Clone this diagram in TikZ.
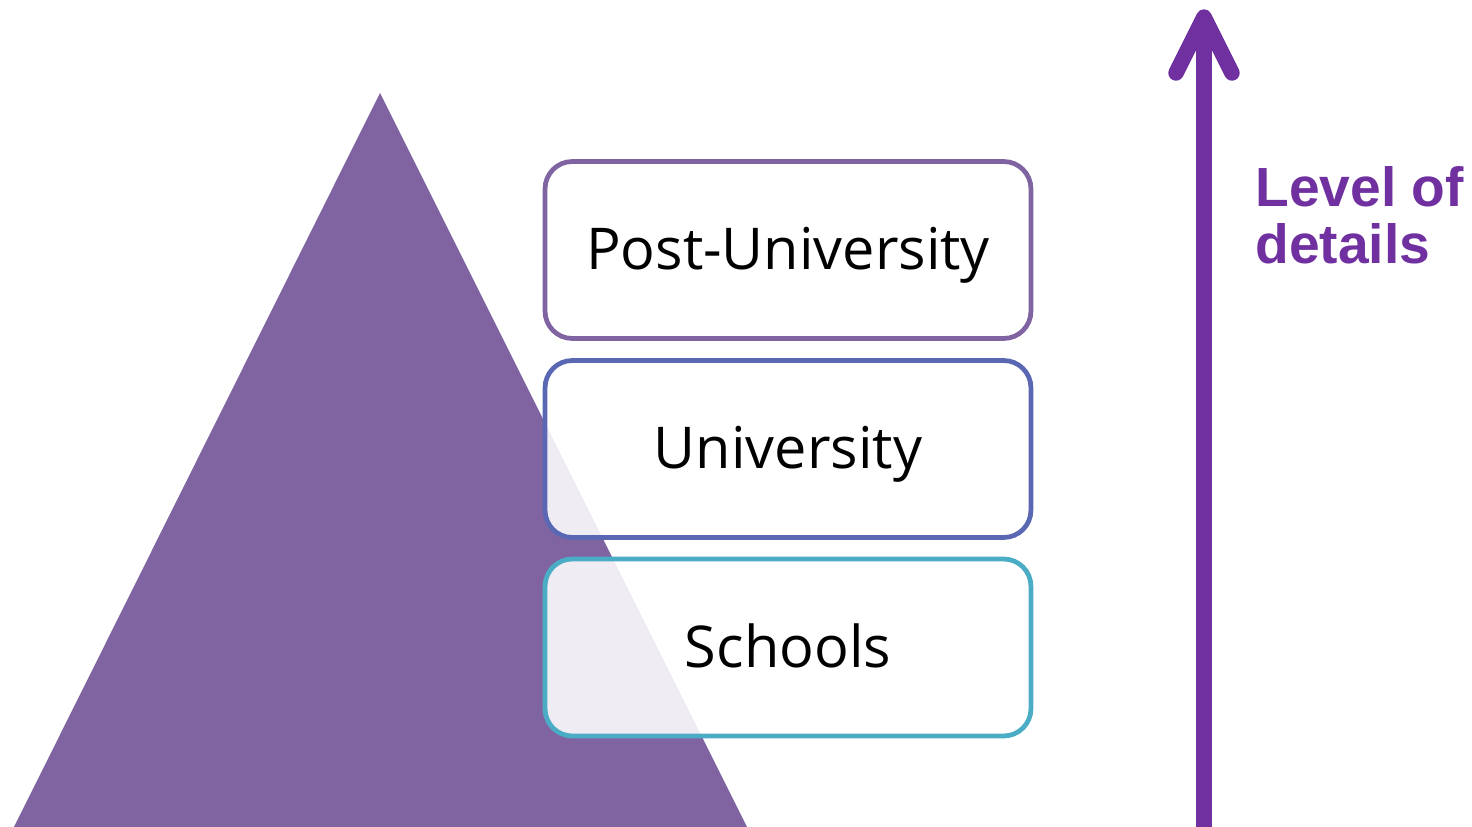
\documentclass[tikz,border=0pt]{standalone}
\usepackage{fontspec}
\setmainfont{Open Sans}
\newfontfamily\boldsans{Liberation Sans}
\definecolor{tri}{HTML}{8064A2}
\definecolor{bpost}{HTML}{8064A2}
\definecolor{buni}{HTML}{5A68B4}
\definecolor{bsch}{HTML}{4BACC6}
\definecolor{arr}{HTML}{7030A0}
\begin{document}
\begin{tikzpicture}[x=0.02cm,y=-0.02cm,
  lvl/.style={draw, line width=2.7pt, rounded corners=15.5pt, fill=white, fill opacity=0.88, text opacity=1,
    minimum width=9.72cm, minimum height=3.54cm, inner sep=0pt, text height=28pt, text depth=5.4pt,
    font=\fontsize{32.8}{38}\selectfont, text=black},
  arrline/.style={draw=arr, line width=8.8pt}]
\useasboundingbox (0,0) rectangle (1472,827);
\fill[tri] (380,93) -- (14,827) -- (747,827) -- cycle;
\node[lvl, draw=bpost] (post) at (788,250) {Post-University};
\node[lvl, draw=buni] (uni) at (788,449) {University};
\node[lvl, draw=bsch] (sch) at (788,647.5) {Schools};
\coordinate (abot) at (1204,827);
\coordinate (atip) at (1204,17);
\coordinate (al) at (1176,73);
\coordinate (ar) at (1232,73);
\draw[arrline] (abot) -- (1204,30);
\draw[arrline, line cap=round, line join=round] (al) -- (atip) -- (ar);
\node[anchor=north west, inner sep=0pt, text=arr, align=left, font=\boldsans\bfseries\fontsize{31.4}{32.3}\selectfont] (lbl) at (1255,166) {Level of\\details};
\end{tikzpicture}
\end{document}
